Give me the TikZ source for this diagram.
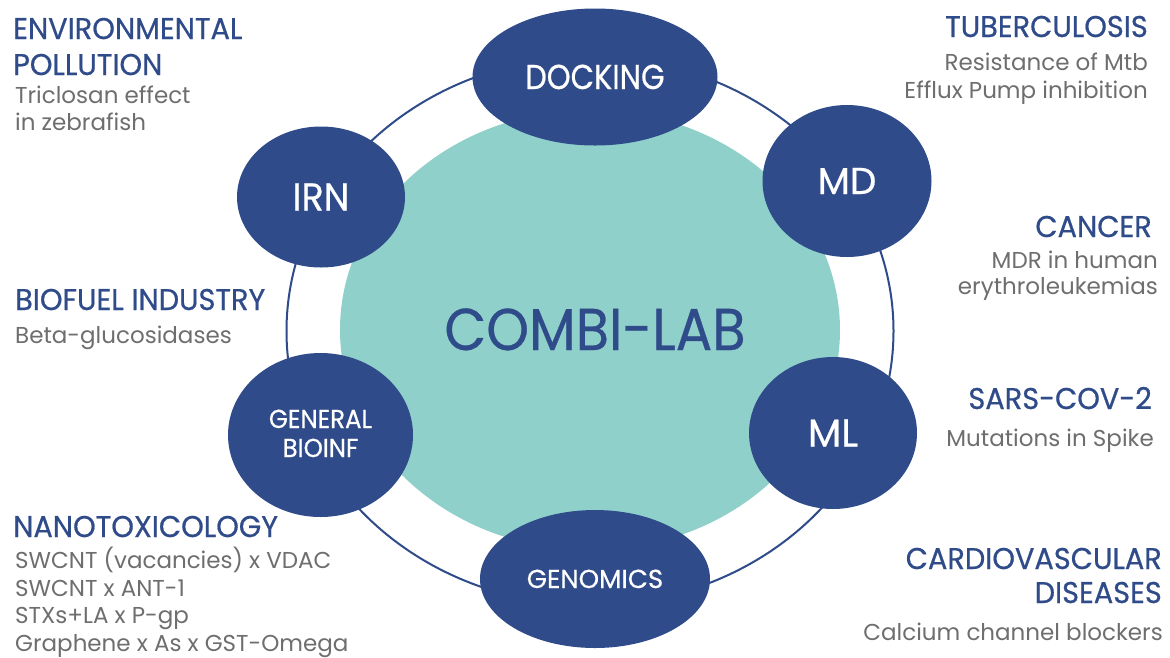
\documentclass[tikz,border=0pt]{standalone}
\usepackage{fontspec}
\usetikzlibrary{shapes.geometric}
\newfontfamily\headfont[FakeStretch=0.96, FakeBold=0.6]{Poppins}
\newfontfamily\nodefont[FakeStretch=0.88, FakeBold=0.6]{Poppins}
\newfontfamily\nodefontM[FakeStretch=0.94, FakeBold=0.6]{Poppins}
\newfontfamily\nodefontW[FakeStretch=1.0, FakeBold=0.6]{Poppins}
\newfontfamily\titlefont[FakeStretch=0.92, FakeBold=0.5]{Poppins}
\newfontfamily\bodyfont{Poppins}
\definecolor{navy}{HTML}{2F4B8A}
\definecolor{combiteal}{HTML}{90D0CA}
\definecolor{txtgray}{HTML}{6E6E6E}
\tikzset{
  method/.style={ellipse, fill=navy, draw=none, inner sep=0pt, text=white, text depth=0pt, align=center},
  headL/.style={anchor=base west, inner sep=0pt, text=navy, font=\headfont\fontsize{30}{36}\selectfont},
  headR/.style={anchor=base east, inner sep=0pt, text=navy, font=\headfont\fontsize{30}{36}\selectfont},
  bodyL/.style={anchor=base west, inner sep=0pt, text=txtgray, font=\bodyfont\fontsize{23}{28}\selectfont},
  bodyR/.style={anchor=base east, inner sep=0pt, text=txtgray, font=\bodyfont\fontsize{23}{28}\selectfont},
  ring/.style={draw=navy, line width=2pt}
}
\begin{document}
\begin{tikzpicture}[x=1pt,y=-1pt]
\useasboundingbox (0,0) rectangle (1170,657);
\fill[white] (0,0) rectangle (1170,657);

% ring and hub
\draw[ring] (590,331) ellipse [x radius=303.5pt, y radius=274pt];
\node[ellipse, fill=combiteal, inner sep=0pt, minimum width=500pt, minimum height=440pt] (hub) at (590,330) {};
\node[anchor=base, inner sep=0pt, text=navy, font=\titlefont\fontsize{59}{59}\selectfont] (hubtitle) at (595,350) {COMBI-LAB};

% method ellipses
\node[method, minimum width=245pt, minimum height=137pt, font=\nodefont\fontsize{34.5}{34.5}\selectfont, text height=24pt] (dock) at (595,77) {DOCKING};
\node[method, minimum width=169pt, minimum height=152pt, font=\nodefontW\fontsize{37.4}{37.4}\selectfont, text height=26pt] (md) at (847,181) {MD};
\node[method, minimum width=168pt, minimum height=152pt, font=\nodefontW\fontsize{38.8}{38.8}\selectfont, text height=27pt] (ml) at (833,433) {ML};
\node[method, minimum width=230pt, minimum height=138pt, font=\nodefontW\fontsize{26}{26}\selectfont, text height=18pt] (gen) at (595,579) {GENOMICS};
\node[method, minimum width=185pt, minimum height=164pt] (gb) at (320.5,435) {};
\node[anchor=base, inner sep=0pt, text=white, font=\nodefontM\fontsize{26}{26}\selectfont] (gb1) at (320.5,428) {GENERAL};
\node[anchor=base, inner sep=0pt, text=white, font=\nodefontM\fontsize{26}{26}\selectfont] (gb2) at (320.5,457) {BIOINF};
\node[method, minimum width=168pt, minimum height=141pt, font=\nodefontM\fontsize{38.8}{38.8}\selectfont, text height=27pt] (irn) at (321,197) {IRN};

% left texts
\node[headL] (envA) at (13,39) {ENVIRONMENTAL};
\node[headL] (envB) at (13,75) {POLLUTION};
\node[bodyL] (envC) at (15,103) {Triclosan effect};
\node[bodyL] (envD) at (15,130) {in zebrafish};

\node[headL] (bioA) at (15,310) {BIOFUEL INDUSTRY};
\node[bodyL] (bioB) at (15,343) {Beta-glucosidases};

\node[headL] (nanoA) at (13,537) {NANOTOXICOLOGY};
\node[bodyL] (nanoB) at (15,568) {SWCNT (vacancies) x VDAC};
\node[bodyL] (nanoC) at (15,596) {SWCNT x ANT-1};
\node[bodyL] (nanoD) at (15,623) {STXs+LA x P-gp};
\node[bodyL] (nanoE) at (15,651) {Graphene x As x GST-Omega};

% right texts
\node[headR] (tbA) at (1148,37) {TUBERCULOSIS};
\node[bodyR] (tbB) at (1148,70) {Resistance of Mtb};
\node[bodyR] (tbC) at (1148,98) {Efflux Pump inhibition};

\node[headR] (caA) at (1152,237) {CANCER};
\node[bodyR] (caB) at (1158,268) {MDR in human};
\node[bodyR] (caC) at (1158,294) {erythroleukemias};

\node[headR] (svA) at (1152,409) {SARS-COV-2};
\node[bodyR] (svB) at (1154,446) {Mutations in Spike};

\node[headR] (cvA) at (1162,569) {CARDIOVASCULAR};
\node[headR] (cvB) at (1162,603) {DISEASES};
\node[bodyR] (cvC) at (1163,640) {Calcium channel blockers};
\end{tikzpicture}
\end{document}
